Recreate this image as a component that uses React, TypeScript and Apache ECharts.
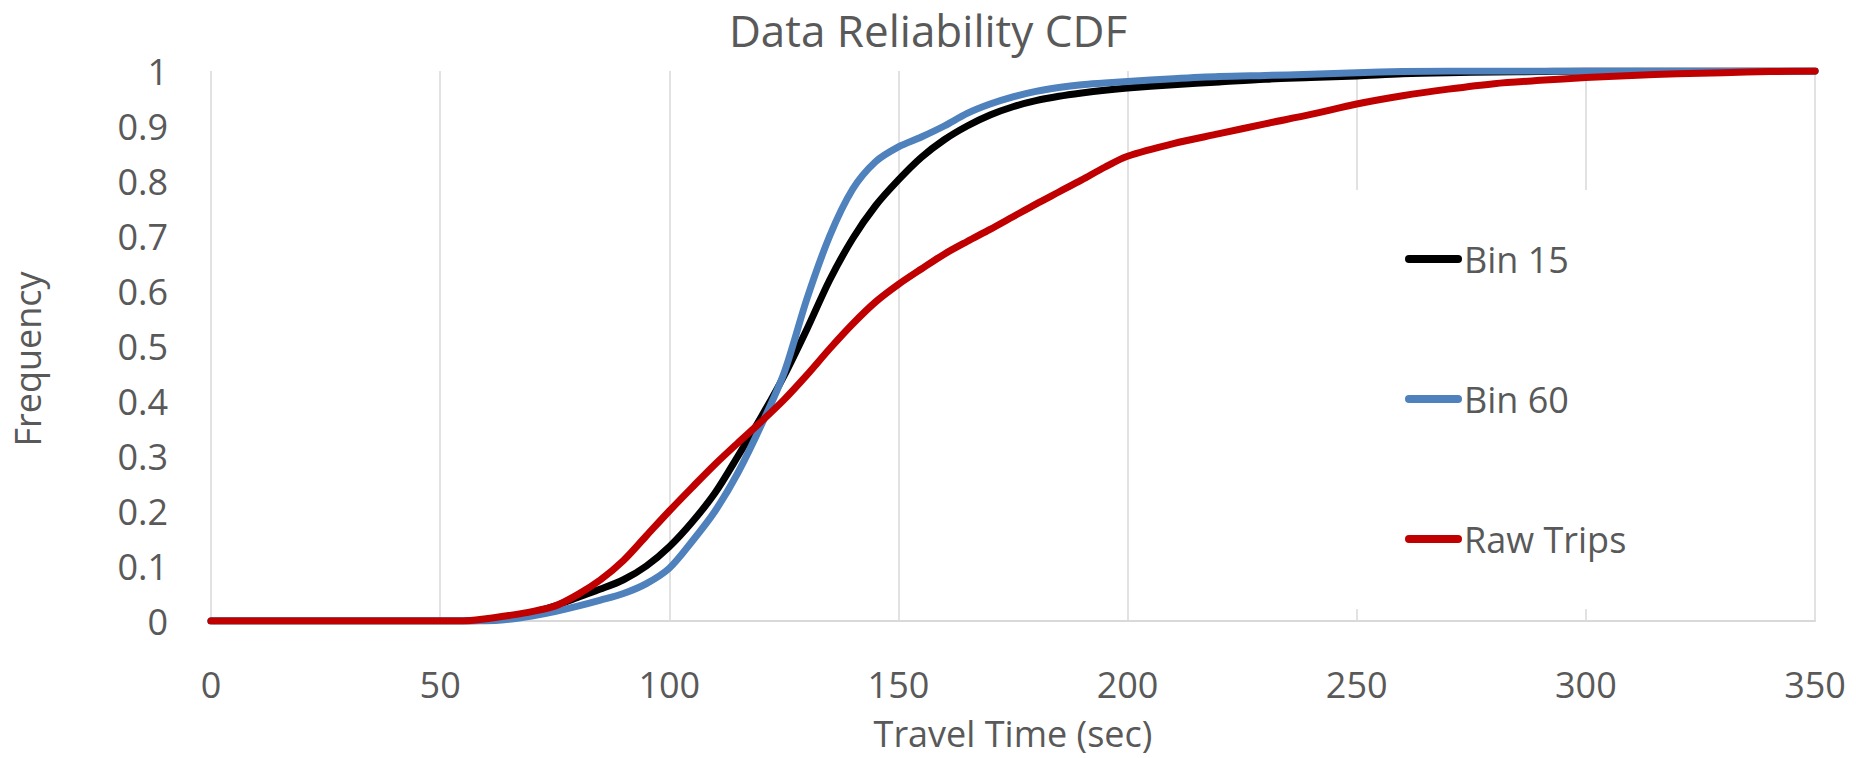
import React, { useEffect, useRef } from "react";
import * as echarts from "echarts";

const TITLE = "Data Reliability CDF";
const X_NAME = "Travel Time (sec)";
const Y_NAME = "Frequency";
const SERIES_NAMES = ["Bin 15", "Bin 60", "Raw Trips"];
const COLORS = ["#000000", "#4F81BD", "#C00000"];

const X = [0, 10, 20, 30, 40, 50, 55, 60, 65, 70, 75, 80, 85, 90, 95, 100, 105, 110, 115, 120, 125, 130, 135, 140, 145, 150, 155, 160, 165, 170, 175, 180, 185, 190, 195, 200, 210, 220, 230, 240, 250, 260, 270, 280, 290, 300, 310, 320, 330, 340, 350];

const BIN15 = [0, 0, 0, 0, 0, 0, 0, 0.002, 0.007, 0.015, 0.027, 0.043, 0.058, 0.075, 0.1, 0.135, 0.18, 0.233, 0.3, 0.37, 0.445, 0.53, 0.62, 0.695, 0.755, 0.802, 0.843, 0.875, 0.9, 0.92, 0.935, 0.946, 0.954, 0.96, 0.965, 0.969, 0.975, 0.98, 0.985, 0.988, 0.991, 0.995, 0.997, 0.998, 0.999, 1, 1, 1, 1, 1, 1];

const BIN60 = [0, 0, 0, 0, 0, 0, 0, 0, 0.003, 0.009, 0.017, 0.027, 0.038, 0.05, 0.068, 0.096, 0.145, 0.2, 0.27, 0.355, 0.45, 0.585, 0.7, 0.785, 0.835, 0.862, 0.88, 0.9, 0.923, 0.94, 0.953, 0.963, 0.97, 0.975, 0.978, 0.981, 0.986, 0.99, 0.992, 0.994, 0.997, 0.999, 1, 1, 1, 1, 1, 1, 1, 1, 1];

const RAW = [0, 0, 0, 0, 0, 0, 0, 0.004, 0.01, 0.017, 0.027, 0.048, 0.075, 0.11, 0.155, 0.2, 0.243, 0.285, 0.324, 0.362, 0.402, 0.447, 0.495, 0.54, 0.58, 0.612, 0.64, 0.667, 0.69, 0.712, 0.735, 0.758, 0.78, 0.802, 0.825, 0.845, 0.868, 0.886, 0.904, 0.921, 0.94, 0.955, 0.967, 0.977, 0.983, 0.988, 0.992, 0.995, 0.997, 0.999, 1];

const FONT = "'Open Sans', sans-serif";
const TEXT = "#595959";
const GRID = "#d9d9d9";

export default function App() {
  const ref = useRef<HTMLDivElement>(null);
  useEffect(() => {
    if (!ref.current) return;
    const chart = echarts.init(ref.current, null, { renderer: "svg" });
    const all = [BIN15, BIN60, RAW];
    chart.setOption({
      animation: false,
      backgroundColor: "#ffffff",
      title: {
        text: TITLE,
        left: "center",
        top: 8,
        padding: 0,
        textStyle: { fontFamily: FONT, fontSize: 44, fontWeight: "normal", color: TEXT },
      },
      grid: { left: 211, right: 41, top: 71, bottom: 137 },
      legend: {
        orient: "vertical",
        left: 1340,
        top: 190,
        padding: [51, 100, 52, 65],
        itemGap: 104,
        itemWidth: 57,
        itemHeight: 8,
        backgroundColor: "#ffffff",
        selectedMode: false,
        icon: "path://M4 0H53A4 4 0 0 1 53 8H4A4 4 0 0 1 4 0Z",
        itemStyle: { borderWidth: 0 },
        textStyle: { fontFamily: FONT, fontSize: 36, color: TEXT, padding: [0, 0, 0, -3] },
        data: SERIES_NAMES,
      },
      xAxis: {
        type: "value",
        min: 0,
        max: 350,
        interval: 50,
        name: X_NAME,
        nameLocation: "middle",
        nameGap: 94,
        nameTextStyle: { fontFamily: FONT, fontSize: 36, color: TEXT },
        axisLine: { show: true, lineStyle: { color: GRID, width: 2 } },
        axisTick: { show: false },
        splitLine: { show: true, lineStyle: { color: GRID, width: 1.5 } },
        axisLabel: { fontFamily: FONT, fontSize: 36, color: TEXT, margin: 45 },
      },
      yAxis: {
        type: "value",
        min: 0,
        max: 1,
        interval: 0.1,
        name: Y_NAME,
        nameLocation: "middle",
        nameGap: 166,
        nameTextStyle: { fontFamily: FONT, fontSize: 36, color: TEXT, padding: [0, 26, 0, 0] },
        axisLine: { show: false },
        axisTick: { show: false },
        splitLine: { show: false },
        axisLabel: { fontFamily: FONT, fontSize: 36, color: TEXT, margin: 43 },
      },
      series: SERIES_NAMES.map((name, i) => ({
        name,
        type: "line",
        data: X.map((x, j) => [x, all[i][j]]),
        smooth: 0.3,
        showSymbol: false,
        symbol: "none",
        color: COLORS[i],
        itemStyle: { color: COLORS[i] },
        lineStyle: { color: COLORS[i], width: 7, cap: "round", join: "round" },
      })),
    });
    return () => chart.dispose();
  }, []);
  return (
    <div
      ref={ref}
      style={{ position: "fixed", left: 0, top: 0, width: 1856, height: 758, background: "#fff" }}
    />
  );
}
